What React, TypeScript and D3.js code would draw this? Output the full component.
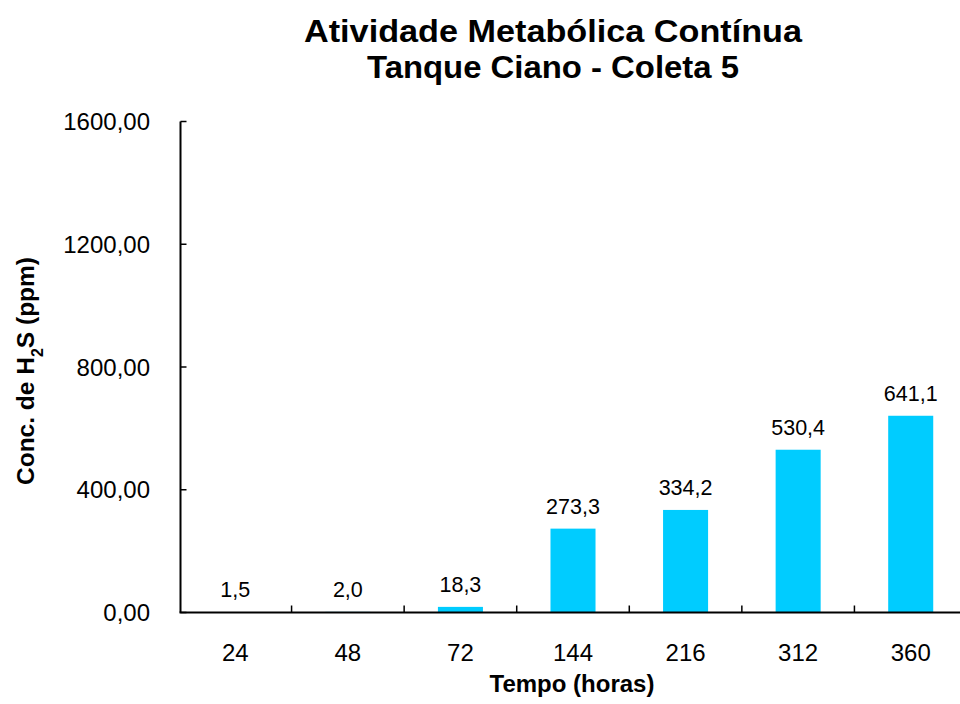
import React from "react";
import * as d3 from "d3";

const categories = ["24", "48", "72", "144", "216", "312", "360"];
const values = [1.5, 2.0, 18.3, 273.3, 334.2, 530.4, 641.1];
const yTicks = [0, 400, 800, 1200, 1600];
const titleLines = ["Atividade Metabólica Contínua", "Tanque Ciano - Coleta 5"];
const titleWidths = [498, 372];

const W = 960;
const H = 704;
const FONT = "'Liberation Sans', Arial, sans-serif";

export default function App() {
  const x = d3.scaleBand<string>().domain(categories).range([179, 967]).padding(0);
  const y = d3.scaleLinear().domain([0, 1600]).range([612.5, 121.5]);
  const bw = x.bandwidth() * 0.4;
  const fmt = (v: number) => v.toFixed(2).replace(".", ",");
  const fmt1 = (v: number) => v.toFixed(1).replace(".", ",");
  const x0 = 180.5;

  return (
    <svg width={W} height={H} style={{ position: "absolute", left: 0, top: 0, background: "#fff" }}>
      <rect width={W} height={H} fill="#fff" />
      {titleLines.map((t, i) => (
        <text
          key={t}
          x={553}
          y={42 + i * 36}
          textAnchor="middle"
          fontFamily={FONT}
          fontWeight="bold"
          fontSize={31}
          fill="#000"
          textLength={titleWidths[i]}
          lengthAdjust="spacingAndGlyphs"
        >
          {t}
        </text>
      ))}
      {values.map((v, i) => {
        const cx = (x(categories[i]) as number) + x.bandwidth() / 2;
        return (
          <g key={categories[i]}>
            <rect x={cx - bw / 2} y={y(v)} width={bw} height={y(0) - y(v)} fill="#00CCFF" />
            <text x={cx} y={y(v) - 15} textAnchor="middle" fontFamily={FONT} fontSize={21.5} fill="#000">
              {fmt1(v)}
            </text>
            <text x={cx} y={661} textAnchor="middle" fontFamily={FONT} fontSize={24} fill="#000">
              {categories[i]}
            </text>
          </g>
        );
      })}
      {/* y axis */}
      <line x1={x0} x2={x0} y1={y(1600)} y2={y(0)} stroke="#000" strokeWidth={2} />
      {yTicks.map((t) => (
        <g key={t}>
          <line x1={x0} x2={x0 + 6} y1={y(t)} y2={y(t)} stroke="#000" strokeWidth={1.5} />
          <text x={150} y={y(t) + 8.5} textAnchor="end" fontFamily={FONT} fontSize={24} fill="#000">
            {fmt(t)}
          </text>
        </g>
      ))}
      {/* x axis */}
      <line x1={x0 - 1} x2={W} y1={y(0)} y2={y(0)} stroke="#000" strokeWidth={2} />
      {categories.slice(1).map((c) => (
        <line key={c} x1={x(c) as number} x2={x(c) as number} y1={y(0)} y2={y(0) - 7} stroke="#000" strokeWidth={1.5} />
      ))}
      <text x={572} y={692} textAnchor="middle" fontFamily={FONT} fontWeight="bold" fontSize={24} fill="#000">
        Tempo (horas)
      </text>
      <text transform="translate(34,371) rotate(-90)" textAnchor="middle" fontFamily={FONT} fontWeight="bold" fontSize={24.5} fill="#000">
        Conc. de H<tspan baselineShift="sub" fontSize={16}>2</tspan>S (ppm)
      </text>
    </svg>
  );
}
